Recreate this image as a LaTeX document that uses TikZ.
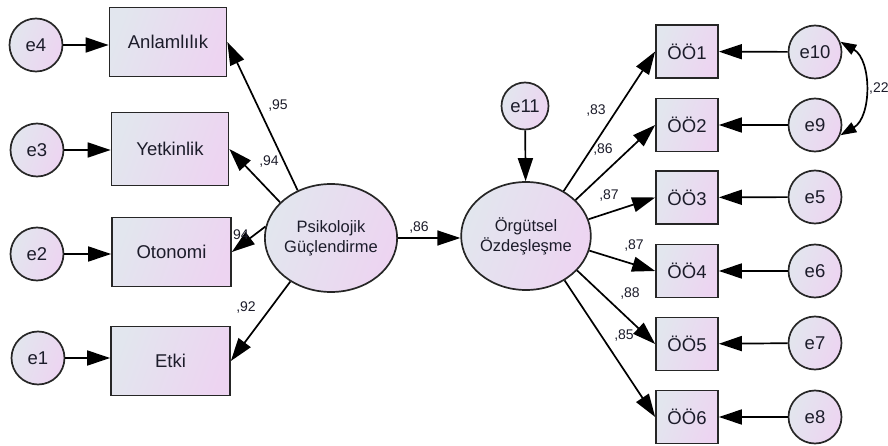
\documentclass[tikz,border=0pt]{standalone}
\usepackage{fontspec}
\setmainfont{Liberation Sans}
\usetikzlibrary{arrows.meta,shapes.geometric}
\definecolor{fillA}{HTML}{E2E6EE}
\definecolor{fillB}{HTML}{EDD4F1}
\definecolor{edge}{HTML}{262626}
\definecolor{ink}{HTML}{1C1C2A}
\begin{document}
\begin{tikzpicture}[x=1pt,y=-1pt,
  gradfill/.style={top color=fillA, bottom color=fillB, shading angle=70},
  obs/.style={draw=edge, line width=1.7pt, gradfill, inner sep=0pt, text=ink,
    font=\fontsize{18.5}{20}\selectfont},
  boxL/.style={obs, minimum width=117pt, minimum height=69pt},
  boxR/.style={obs, minimum width=62pt, minimum height=53pt},
  err/.style={obs, circle, minimum size=53pt},
  lat/.style={obs, ellipse, minimum width=126pt, minimum height=108pt, align=center,
    font=\fontsize{16.5}{20}\selectfont},
  link/.style={draw=black, line width=1.7pt, -{Triangle[length=23pt,width=15pt]}},
  coef/.style={text=ink, font=\fontsize{14}{15}\selectfont, inner sep=0pt}
]
\useasboundingbox (0,0) rectangle (888,446);

% indicators of the first factor
\node[boxL] (anl) at (168,42) {Anlamlılık};
\node[boxL, minimum height=73pt] (yet) at (170,149) {Yetkinlik};
\node[boxL, minimum width=119pt] (oto) at (171.5,252) {Otonomi};
\node[boxL, minimum width=119pt] (etk) at (170.5,361) {Etki};

\node[err] (e4) at (36,45) {e4};
\node[err] (e3) at (37,150) {e3};
\node[err] (e2) at (37,254) {e2};
\node[err] (e1) at (38,358) {e1};

% latent variables
\node[lat] (pg) at (331,238) {Psikolojik\\Güçlendirme};
\node[lat] (oz) at (526,236) {Örgütsel\\Özdeşleşme};
\node[err, minimum size=47pt] (e11) at (525,106) {e11};

% indicators of the second factor
\node[boxR] (o1) at (687,51.5) {ÖÖ1};
\node[boxR] (o2) at (687,125) {ÖÖ2};
\node[boxR] (o3) at (687,197.5) {ÖÖ3};
\node[boxR] (o4) at (687,271) {ÖÖ4};
\node[boxR] (o5) at (687,344) {ÖÖ5};
\node[boxR] (o6) at (687,417) {ÖÖ6};

\node[err] (e10) at (815,52) {e10};
\node[err] (e9) at (815,125) {e9};
\node[err] (e5) at (815,197) {e5};
\node[err] (e6) at (815,271) {e6};
\node[err] (e7) at (815,343) {e7};
\node[err] (e8) at (815,417) {e8};

% error terms to indicators
\draw[link] (e4.east) -- (e4.east -| anl.west);
\draw[link] (e3.east) -- (e3.east -| yet.west);
\draw[link] (e2.east) -- (e2.east -| oto.west);
\draw[link] (e1.east) -- (e1.east -| etk.west);
\draw[link] (e10) -- (o1);
\draw[link] (e9) -- (o2);
\draw[link] (e5) -- (o3);
\draw[link] (e6) -- (o4);
\draw[link] (e7) -- (o5);
\draw[link] (e8) -- (o6);

% loadings
\draw[link] (pg.125) -- (anl.east);
\draw[link] (pg.145) -- (yet.east);
\draw[link] (pg.170) -- (oto.east);
\draw[link] (pg.227) -- (etk.east);
\draw[link] (oz.50) -- (o1.west);
\draw[link] (oz.36) -- (o2.west);
\draw[link] (oz.15) -- (o3.west);
\draw[link] (oz.-13) -- (o4.west);
\draw[link] (oz.-34) -- (o5.west);
\draw[link] (oz.-49) -- (o6.west);

% structural path and disturbance
\draw[link] (pg.east) -- (pg.east -| oz.west);
\draw[link] (e11) -- (oz);

% error covariance
\draw[line width=1.7pt, {Triangle[length=16pt,width=11pt]}-{Triangle[length=16pt,width=11pt]}]
  (e10.22) to[bend left=60] (e9.-22);

% coefficients
\node[coef] (c1) at (278,106) {,95};
\node[coef] (c2) at (269,162) {,94};
\node[coef] (c3) at (239,236) {,94};
\node[coef] (c4) at (246,308) {,92};
\node[coef] (c5) at (419,228) {,86};
\node[coef] (c6) at (596,111) {,83};
\node[coef] (c7) at (603,150) {,86};
\node[coef] (c8) at (609,196) {,87};
\node[coef] (c9) at (634,246) {,87};
\node[coef] (c10) at (630,294) {,88};
\node[coef] (c11) at (624,336) {,85};
\node[coef, anchor=west] (c12) at (869,89) {,22};
\end{tikzpicture}
\end{document}
